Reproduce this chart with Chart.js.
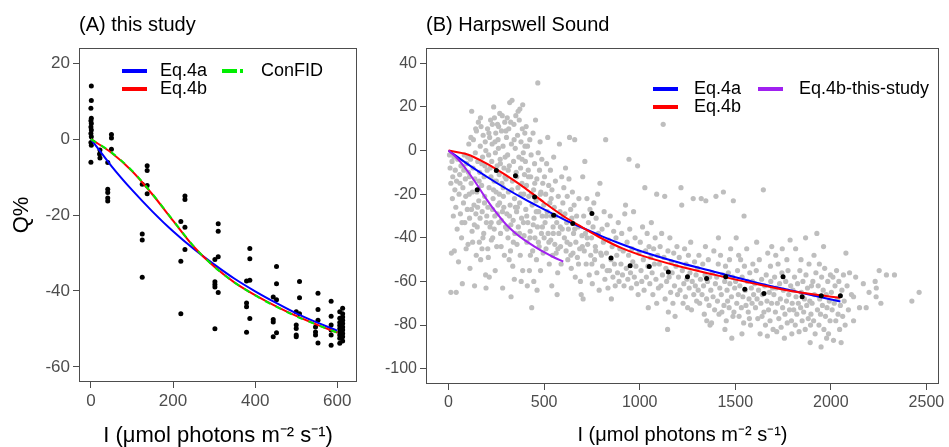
<!DOCTYPE html>
<html>
<head>
<meta charset="utf-8">
<title>Q% vs I</title>
<script src="https://cdn.jsdelivr.net/npm/chart.js"></script>
<style>
  html, body { margin: 0; padding: 0; background: #fff; }
  .wrap { position: relative; width: 949px; height: 447px; overflow: hidden; }
  #chartA { position: absolute; left: 0; top: 0; }
  #chartB { position: absolute; left: 380px; top: 0; }
</style>
</head>
<body>
<div class="wrap">
  <canvas id="chartA" width="380" height="447"></canvas>
  <canvas id="chartB" width="569" height="447"></canvas>
</div>
<script>
// ---------- (A) this study ----------
const studyI = [
  1, 1, 0, 1, 0, 1, 0, 1, 0, 1, 0, 1, 0,
  22, 21, 22,
  41, 41, 41, 41, 41,
  50, 50, 50,
  125, 125, 125, 125,
  137, 137, 137, 137,
  219, 219, 219,
  229, 229, 229, 229,
  302, 302, 302, 302, 302,
  310, 310, 310, 310,
  379, 379, 379, 379,
  387, 387, 387, 387,
  444, 444, 444, 444,
  452, 452, 452, 452,
  500, 500, 500, 500, 500,
  508, 508, 508,
  547, 547, 547,
  553, 553, 553, 553,
  585, 585, 585, 585, 585, 585,
  606, 606, 606, 606, 606, 606, 606, 606, 606,
  613, 613, 613, 613, 613, 613, 613, 613, 613, 613
];
const studyQ = [
  14.0, 10.2, 8.1, 5.5, 4.8, 4.1, 3.2, 2.4, 1.5, 0.6, -0.9, -1.6, -6.1,
  -2.9, -3.9, -5.0,
  -6.2, -13.2, -14.1, -15.5, -16.3,
  1.2, 0.3, -2.7,
  -11.9, -25.0, -26.6, -36.4,
  -7.0, -8.3, -12.2, -14.4,
  -21.7, -32.2, -46.0,
  -15.0, -15.9, -23.2, -29.1,
  -31.7, -37.6, -38.3, -39.0, -50.0,
  -22.3, -24.3, -31.0, -40.4,
  -37.4, -43.2, -44.2, -50.9,
  -28.8, -31.5, -37.2, -47.3,
  -41.6, -47.5, -48.2, -52.1,
  -33.6, -38.1, -42.3, -51.0,
  -45.5, -49.0, -49.9, -51.6, -52.1,
  -37.5, -41.8, -46.0,
  -49.5, -50.8, -51.6,
  -40.6, -44.9, -47.7, -53.7,
  -42.7, -46.7, -49.0, -50.3, -51.6, -54.3,
  -45.5, -47.2, -48.3, -49.1, -50.0, -50.8, -51.6, -52.5, -53.8,
  -44.6, -46.0, -46.9, -47.7, -48.6, -49.5, -50.3, -51.2, -52.1, -53.2
];
const curveIA = [0, 50, 100, 150, 200, 250, 300, 350, 400, 450, 500, 550, 600];
const eq4aA   = [0, -7.1, -13.4, -19.1, -24.3, -28.9, -33.0, -36.8, -40.1, -43.1, -45.9, -48.3, -50.5];
const eq4bA   = [0, -3.6, -8.4, -14.6, -21.5, -28.3, -33.6, -37.8, -41.1, -44.0, -46.6, -48.9, -51.0];
const confidA = [0, -3.5, -8.3, -14.5, -21.4, -28.2, -33.6, -37.8, -41.2, -44.1, -46.7, -48.9, -51.0];
const xTicksA = [0, 200, 400, 600];
const yTicksA = [-60, -40, -20, 0, 20];

// ---------- (B) Harpswell Sound ----------
// raw observations [I, Q%] (grey)
const hsObs = [
  [5,-2],[8,-8],[12,-15],[15,-47],[12,-65],[18,-5],[20,-22],[22,-12],[25,-30],[28,-3],[30,-46],[33,-18],[35,-9],[38,-26],[40,-65],[42,-14],[45,-36],[48,-4],[52,-51],[55,-20],[58,-11],[62,-29],[65,-7],[68,-40],[72,-61],[75,-17],[78,-24],[82,-2],[85,-33],[88,-13],[92,-45],[95,-6],[98,-27],
  [60,-15],[70,-33],[80,-9],[90,-21],[100,-3],
  [102,-43],[104,-10],[106,3],[108,-20],[110,-31],[112,-54],[115,-4],[118,-15],[121,18],[123,-37],[126,-42],[128,-8],[130,5],[133,-25],[136,-62],[138,-13],[140,-1],[143,-29],[146,9],[148,-19],[150,-35],[153,-5],[156,13],[158,-23],[161,-42],[163,-10],[166,2],[168,-50],[170,11],[173,-16],[176,-28],[178,-3],[181,7],[184,-38],[186,-12],[189,-21],[192,4],[194,-57],[196,-63],[198,-33],[190,-7],[175,-45],[145,-48],[120,-27],[165,-31],
  [110,-12],[117,6],[125,-19],[135,-34],[142,10],[152,-26],[160,-14],[167,15],[174,-6],[180,-40],[188,-24],[195,0],
  [202,-9],[204,10],[206,-26],[208,-49],[210,-2],[212,-17],[215,6],[217,-35],[220,14],[222,-12],[224,-41],[226,-5],[228,3],[231,-40],[233,-22],[236,20],[238,-14],[240,15],[242,-30],[245,-1],[247,8],[249,-19],[252,-44],[254,-7],[256,12],[258,-25],[261,1],[263,-33],[265,-11],[268,17],[270,-4],[272,-38],[275,-44],[277,9],[279,-15],[282,-28],[283,-63],[285,2],[287,-21],[290,-8],[292,-48],[294,13],[296,-3],[298,-35],[244,-55],[213,-58],[259,5],[230,-27],[286,-17],[267,-24],
  [200,-30],[205,-45],[211,8],[218,-8],[223,-33],[229,12],[235,-18],[239,-36],[243,4],[250,-14],[255,-29],[262,11],[266,-20],[271,-6],[276,-32],[281,16],[289,-26],[295,-12],
  [301,-13],[303,6],[305,-29],[307,15],[309,-2],[311,-40],[313,-19],[315,10],[318,-7],[320,22],[322,-25],[324,-46],[327,-67],[329,3],[332,23],[334,-14],[336,-53],[338,-32],[340,-5],[342,12],[345,-22],[347,-38],[349,1],[352,16],[354,-10],[356,-28],[358,-43],[361,7],[363,-17],[365,-35],[368,-3],[370,14],[372,-24],[375,-48],[377,-8],[379,4],[382,-31],[384,-15],[386,10],[388,21],[388,-55],[391,-1],[393,-20],[395,-39],[397,-11],[399,8],[317,-50],[344,-59],[360,-26],[380,-60],[326,-34],[373,19],
  [300,9],[306,-36],[312,-9],[319,-30],[325,13],[331,-18],[339,-42],[343,5],[350,-26],[357,-12],[364,18],[371,-38],[378,-20],[385,-4],[392,-33],
  [402,-5],[404,-27],[406,11],[408,-16],[410,-42],[413,2],[415,-33],[417,-9],[420,-21],[423,-55],[425,5],[427,-37],[430,-12],[432,-2],[435,-72],[437,-25],[440,-46],[442,8],[445,-18],[447,-31],[450,-6],[452,-40],[455,14],[458,-23],[460,-50],[462,-13],[465,-35],[467,31],[469,-1],[472,-28],[474,-44],[476,-9],[479,4],[481,-55],[483,-19],[486,-38],[488,-4],[490,-30],[493,-15],[495,-47],[498,-25],[428,-48],[446,-60],[463,-64],[412,-62],
  [400,2],[409,-30],[418,-12],[426,-40],[434,-20],[443,-34],[451,-15],[459,-28],[470,-42],[480,-20],[491,-35],
  [502,-12],[505,-33],[508,-20],[510,-45],[513,-6],[516,-28],[519,6],[521,-38],[524,-16],[527,-52],[530,-24],[533,-9],[535,-41],[538,-30],[541,-18],[544,-48],[547,-35],[550,-3],[553,-26],[556,-43],[559,-14],[563,-47],[566,-33],[568,-66],[571,-56],[574,-21],[577,-38],[580,3],[583,-28],[586,-44],[589,-52],[592,-12],[595,-36],[598,-24],[540,-62],
  [500,-40],[512,-30],[525,-42],[537,-22],[548,-38],[560,-30],[572,-45],[585,-35],
  [603,-17],[606,-40],[609,-29],[612,-8],[615,-46],[618,-33],[621,-21],[624,-50],[627,-36],[630,-13],[633,6],[636,-43],[639,-27],[642,-54],[645,-31],[648,-19],[651,-47],[654,-38],[657,-25],[660,5],[663,-58],[666,-42],[670,-30],[674,-49],[678,-35],[682,-22],[686,-45],[690,-60],[694,-66],[698,-39],
  [600,-30],[620,-42],[640,-48],[660,-36],[680,-52],
  [702,-12],[704,-68],[707,-30],[710,-46],[713,-5],[716,-38],[720,-52],[724,-22],[728,-43],[732,-33],[736,-57],[740,-27],[744,-48],[748,-40],[752,-61],[756,-35],[760,-24],[764,-50],[768,-44],[772,-31],[776,-56],[780,-20],[784,-38],[788,-64],[792,-15],[796,-47],
  [700,-44],[725,-40],[750,-52],[770,-46],
  [803,-36],[806,-53],[810,-42],[814,-28],[818,-59],[822,5],[826,-47],[830,-34],[834,-63],[838,-41],[842,-55],[846,-30],[850,-50],[852,-68],[856,-44],[860,-58],[864,-37],[868,-52],[872,-62],[876,-40],[880,-48],[884,-56],[888,-33],[892,-60],[896,-45],
  [800,-48],[830,-55],
  [902,-52],[906,-38],[910,-57],[914,-46],[918,-62],[922,-29],[926,-25],[930,-54],[934,-42],[938,-59],[942,-48],[944,-4],[948,-36],[952,-56],[956,-63],[960,-45],[964,-51],[968,-28],[972,-58],[976,-40],[980,-53],[984,-61],[989,-7],[992,-66],[996,-47],
  [1003,-42],[1007,-55],[1011,-60],[1015,-35],[1019,-50],[1023,-64],[1027,-17],[1031,-46],[1035,-58],[1039,-38],[1043,-53],[1045,-72],[1049,-44],[1053,-61],[1057,-49],[1061,-33],[1065,-56],[1069,-66],[1073,-45],[1077,-52],[1081,-40],[1085,-59],[1089,-20],[1089,-70],[1094,-48],[1098,-63],
  [1103,-52],[1107,-44],[1111,-62],[1115,-38],[1119,-57],[1123,12],[1127,-49],[1131,-21],[1133,-68],[1137,-54],[1141,-60],[1146,-82],[1148,-46],[1150,-74],[1154,-58],[1158,-40],[1162,-65],[1166,-51],[1170,-56],[1174,-70],[1178,-47],[1182,-62],[1185,-76],[1190,-53],[1195,-44],[1198,-66],
  [1203,-58],[1207,-49],[1211,-64],[1216,-17],[1220,-25],[1223,-55],[1227,-70],[1231,-61],[1235,-45],[1239,-67],[1243,-52],[1247,-59],[1251,-72],[1255,-48],[1259,-63],[1263,-56],[1267,-42],[1271,-73],[1275,-60],[1280,-22],[1283,-66],[1287,-51],[1291,-62],[1295,-57],[1298,-69],
  [1302,-54],[1306,-64],[1310,-48],[1314,-70],[1318,-59],[1322,-22],[1326,-66],[1330,-52],[1334,-62],[1338,-75],[1342,-57],[1346,-23],[1350,-68],[1351,-78],[1355,-60],[1359,-50],[1363,-71],[1368,-80],[1372,-64],[1376,-79],[1380,-56],[1384,-67],[1388,-46],[1392,-73],[1396,-61],[1399,-21],[1344,-44],[1366,-58],
  [1403,-58],[1407,-69],[1411,-52],[1415,-75],[1419,-63],[1423,-48],[1427,-66],[1430,-74],[1434,-57],[1438,-19],[1441,-71],[1445,-60],[1449,-53],[1453,-78],[1457,-64],[1460,-69],[1464,-56],[1468,-72],[1472,-61],[1476,-45],[1480,-67],[1482,-86],[1486,-58],[1490,-23],[1493,-74],[1497,-63],[1412,-40],[1446,-82],[1470,-50],[1488,-76],
  [1502,-60],[1505,-40],[1508,-70],[1512,-55],[1516,-66],[1520,-76],[1524,-62],[1528,-50],[1532,-72],[1536,-58],[1540,-67],[1544,-79],[1548,-53],[1552,-64],[1556,-71],[1560,-45],[1564,-60],[1568,-74],[1572,-68],[1576,-56],[1580,-80],[1584,-63],[1588,-70],[1592,-52],[1596,-66],[1518,-48],[1546,-30],[1574,-77],[1590,-60],[1535,-84],
  [1602,-61],[1606,-72],[1610,-55],[1614,-68],[1618,-77],[1622,-64],[1626,-50],[1630,-84],[1634,-70],[1638,-59],[1642,-66],[1647,-18],[1650,-74],[1654,-62],[1658,-80],[1662,-57],[1666,-69],[1670,-47],[1674,-73],[1678,-65],[1682,-78],[1686,-60],[1690,-70],[1691,-44],[1695,-63],[1698,-82],[1612,-42],[1640,-76],[1668,-85],[1684,-53],
  [1702,-66],[1706,-58],[1710,-74],[1714,-63],[1717,-83],[1720,-70],[1724,-52],[1728,-77],[1732,-61],[1736,-68],[1740,-81],[1744,-56],[1748,-72],[1752,-64],[1757,-86],[1760,-75],[1764,-60],[1768,-69],[1772,-79],[1776,-55],[1780,-66],[1784,-73],[1787,-41],[1790,-62],[1794,-78],[1798,-70],[1712,-48],[1746,-45],[1770,-50],[1796,-84],
  [1802,-64],[1806,-73],[1810,-58],[1814,-80],[1818,-67],[1822,-75],[1826,-61],[1830,-70],[1834,-83],[1838,-55],[1842,-72],[1846,-65],[1850,-78],[1854,-60],[1858,-74],[1862,-68],[1866,-82],[1870,-57],[1874,-71],[1878,-63],[1882,-77],[1886,-52],[1890,-69],[1892,-88],[1896,-75],[1899,-62],[1816,-45],[1844,-50],[1868,-40],[1894,-80],
  [1902,-70],[1906,-60],[1910,-78],[1914,-66],[1918,-84],[1922,-56],[1927,-38],[1930,-73],[1934,-62],[1938,-80],[1942,-68],[1946,-75],[1949,-90],[1952,-58],[1956,-71],[1960,-64],[1964,-82],[1968,-54],[1972,-76],[1976,-66],[1980,-72],[1984,-60],[1988,-84],[1992,-69],[1996,-78],[1912,-48],[1940,-52],[1962,-44],[1978,-86],[1998,-57],
  [2003,-65],[2007,-73],[2011,-58],[2014,-87],[2018,-70],[2022,-62],[2026,-78],[2030,-55],[2034,-68],[2038,-75],[2042,-60],[2046,-82],[2050,-71],[2054,-88],[2058,-64],[2062,-76],[2066,-57],[2070,-69],[2075,-80],[2079,-47],[2085,-62],[2092,-73],[2098,-56],
  [2108,-66],[2119,-78],[2119,-67],[2130,-58],[2150,-72],[2170,-61],[2185,-72],[2200,-65],[2232,-60],[2237,-67],[2238,-63],[2253,-55],[2262,-70],[2291,-57],[2333,-57],[2424,-69],[2462,-65]
];
// binned means (black)
const hsBinI = [150, 250, 350, 450, 550, 650, 750, 850, 950, 1050, 1150, 1250, 1350, 1450, 1550, 1650, 1750, 1850, 1950, 2050];
const hsBinQ = [-18.0, -9.1, -11.6, -21.3, -29.6, -33.4, -28.9, -49.2, -52.8, -53.1, -55.7, -57.9, -58.7, -57.9, -63.6, -65.5, -57.9, -67.0, -66.6, -66.6];
const curveIB = [0, 100, 200, 300, 400, 500, 600, 700, 800, 900, 1000, 1200, 1400, 1600, 1800, 2050];
const eq4aB   = [0, -6.2, -12.0, -17.4, -22.4, -27.0, -31.4, -35.4, -39.2, -42.7, -45.9, -51.2, -55.8, -60.3, -64.3, -69.2];
const eq4bB   = [0, -1.8, -6.0, -11.3, -17.2, -23.8, -30.0, -35.2, -40.2, -44.5, -47.8, -52.9, -57.1, -61.0, -64.5, -67.5];
const curveIStudy = [0, 50, 100, 150, 200, 250, 300, 350, 400, 450, 500, 550, 600];
const eq4bStudy   = [0, -4.0, -9.5, -15.8, -22.5, -28.5, -33.8, -37.9, -41.2, -44.0, -46.6, -48.9, -50.9];
const xTicksB = [0, 500, 1000, 1500, 2000, 2500];
const yTicksB = [-100, -80, -60, -40, -20, 0, 20, 40];

const xTitle = 'I (μmol photons m⁻² s⁻¹)';

// ---------- helpers ----------
const FONT = '"Liberation Sans", Arial, sans-serif';
Chart.defaults.font.family = FONT;

const pts = (xs, ys) => xs.map((x, i) => ({ x: x, y: ys[i] }));

function curve(label, xs, ys, color, dash, order) {
  return {
    label: label,
    data: pts(xs, ys),
    showLine: true,
    borderColor: color,
    backgroundColor: color,
    borderWidth: 2,
    borderDash: dash || [],
    pointRadius: 0,
    cubicInterpolationMode: 'monotone',
    order: order
  };
}

function axis(opts) {
  return {
    type: 'linear',
    min: opts.min,
    max: opts.max,
    afterBuildTicks: s => { s.ticks = opts.ticks.map(v => ({ value: v })); },
    afterFit: s => { if (opts.width) s.width = opts.width; if (opts.height) s.height = opts.height; },
    grid: { drawOnChartArea: false, drawTicks: true, tickLength: 6, color: '#4d4d4d', lineWidth: 1 },
    border: { display: false },
    ticks: {
      color: '#4d4d4d',
      padding: 3,
      maxRotation: 0,
      font: { size: opts.tickSize },
      callback: v => String(v)
    },
    title: opts.title
      ? { display: true, text: opts.title, color: '#000', font: { size: opts.titleSize, lineHeight: 1 }, padding: opts.titlePad }
      : { display: false }
  };
}

// frame, panel title and legend keys drawn in the canvas
const panelDeco = {
  id: 'panelDeco',
  afterDraw(chart, args, o) {
    const { ctx, chartArea: a } = chart;
    ctx.save();
    ctx.strokeStyle = '#4d4d4d';
    ctx.lineWidth = 1;
    ctx.strokeRect(Math.round(a.left) + 0.5, Math.round(a.top) + 0.5,
      Math.round(a.right - a.left) - 1, Math.round(a.bottom - a.top) - 1);

    ctx.fillStyle = '#000';
    ctx.textAlign = 'left';
    ctx.textBaseline = 'middle';
    ctx.font = o.titleSize + 'px ' + FONT;
    ctx.fillText(o.title, a.left, o.titleY);

    ctx.font = o.keySize + 'px ' + FONT;
    o.keys.forEach(k => {
      const ds = chart.data.datasets.find(d => d.label === k.label);
      ctx.strokeStyle = ds.borderColor;
      ctx.lineWidth = 4;
      ctx.setLineDash(k.dash || []);
      ctx.beginPath();
      ctx.moveTo(k.x, k.y);
      ctx.lineTo(k.x + k.w, k.y);
      ctx.stroke();
      ctx.setLineDash([]);
      ctx.fillText(k.label, k.tx, k.y);
    });
    ctx.restore();
  }
};

const common = {
  responsive: false,
  animation: false,
  events: [],
  plugins: { legend: { display: false }, tooltip: { enabled: false } }
};

// ---------- chart A ----------
new Chart(document.getElementById('chartA'), {
  type: 'scatter',
  data: {
    datasets: [
      { label: 'obs', data: pts(studyI, studyQ), backgroundColor: '#000', borderWidth: 0, pointRadius: 2.5, order: 4 },
      curve('Eq.4a', curveIA, eq4aA, '#0000ff', null, 3),
      curve('Eq.4b', curveIA, eq4bA, '#ff0000', null, 2),
      curve('ConFID', curveIA, confidA, '#00ee00', [6, 6], 1)
    ]
  },
  options: Object.assign({}, common, {
    layout: { padding: { top: 48, left: 0, right: 23, bottom: 0 } },
    scales: {
      x: axis({ min: -29, max: 648, ticks: xTicksA, height: 65, tickSize: 17,
                title: xTitle, titleSize: 22, titlePad: { top: 0, bottom: 0 } }),
      y: axis({ min: -64, max: 24, ticks: yTicksA, width: 79, tickSize: 17,
                title: 'Q%', titleSize: 22, titlePad: { top: 11, bottom: 0 } })
    },
    plugins: Object.assign({}, common.plugins, {
      panelDeco: {
        title: '(A) this study', titleY: 25, titleSize: 20, keySize: 18,
        keys: [
          { label: 'Eq.4a', x: 122, y: 71, w: 25, tx: 160 },
          { label: 'Eq.4b', x: 122, y: 89, w: 25, tx: 160 },
          { label: 'ConFID', x: 222, y: 71, w: 21, tx: 261, dash: [15, 3] }
        ]
      }
    })
  }),
  plugins: [panelDeco]
});

// ---------- chart B ----------
new Chart(document.getElementById('chartB'), {
  type: 'scatter',
  data: {
    datasets: [
      { label: 'obs', data: hsObs.map(p => ({ x: p[0], y: p[1] })), backgroundColor: '#bebebe', borderWidth: 0, pointRadius: 2.6, order: 5 },
      curve('Eq.4a', curveIB, eq4aB, '#0000ff', null, 4),
      curve('Eq.4b', curveIB, eq4bB, '#ff0000', null, 3),
      curve('Eq.4b-this-study', curveIStudy, eq4bStudy, '#a020f0', null, 2),
      { label: 'bins', data: pts(hsBinI, hsBinQ), backgroundColor: '#000', borderWidth: 0, pointRadius: 2.5, order: 1 }
    ]
  },
  options: Object.assign({}, common, {
    layout: { padding: { top: 48, left: 0, right: 10, bottom: 0 } },
    scales: {
      x: axis({ min: -118, max: 2566, ticks: xTicksB, height: 63, tickSize: 16,
                title: xTitle, titleSize: 20, titlePad: { top: 0, bottom: 2 } }),
      y: axis({ min: -107, max: 47, ticks: yTicksB, width: 46, tickSize: 16 })
    },
    plugins: Object.assign({}, common.plugins, {
      panelDeco: {
        title: '(B) Harpswell Sound', titleY: 25, titleSize: 20, keySize: 18,
        keys: [
          { label: 'Eq.4a', x: 273, y: 89, w: 25, tx: 314 },
          { label: 'Eq.4b', x: 273, y: 107, w: 25, tx: 314 },
          { label: 'Eq.4b-this-study', x: 378, y: 89, w: 25, tx: 419 }
        ]
      }
    })
  }),
  plugins: [panelDeco]
});
</script>
</body>
</html>
